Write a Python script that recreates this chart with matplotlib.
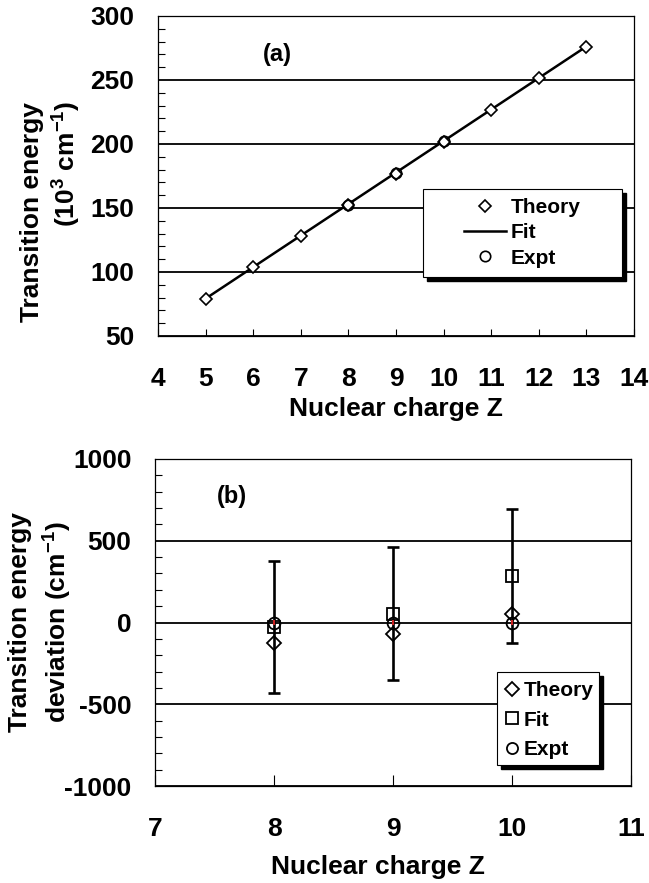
import numpy as np
import matplotlib.pyplot as plt
import matplotlib.transforms as mtransforms
from matplotlib.patches import Rectangle
from matplotlib.ticker import MultipleLocator

plt.rcParams['font.family'] = ['Liberation Sans', 'DejaVu Sans']
plt.rcParams['font.weight'] = 'bold'
plt.rcParams['axes.unicode_minus'] = False
plt.rcParams['mathtext.fontset'] = 'custom'
plt.rcParams['mathtext.rm'] = 'Liberation Sans:bold'
plt.rcParams['mathtext.bf'] = 'Liberation Sans:bold'
plt.rcParams['mathtext.default'] = 'rm'

# panel (a): transition energy (10^3 cm^-1)
z_theory = [5, 6, 7, 8, 9, 10, 11, 12, 13]
e_theory = [78.9, 103.9, 128.1, 152.3, 176.8, 201.3, 226.3, 251.3, 276.0]
z_expt = [8, 9, 10]
e_expt = [152.6, 177.5, 202.0]
z_fit = [5, 13]
e_fit = [79.2, 276.2]

# panel (b): deviations (cm^-1)
z_dev = [8, 9, 10]
dev_theory = [-128, -73, 53]
dev_fit = [-26, 55, 285]
fit_err = [405, 408, 408]
dev_expt = [0, 0, 0]
expt_err = [15, 15, 15]

W, H = 649, 883
fig = plt.figure(figsize=(W / 100, H / 100), dpi=100)


def px_axes(l, r, t, b):
    return fig.add_axes([l / W, 1 - b / H, (r - l) / W, (b - t) / H])


ax1 = px_axes(158, 634, 16, 336)
ax2 = px_axes(155, 631, 459, 786)


def style(ax, xlen):
    ax.tick_params(axis='both', which='both', direction='in', labelsize=19)
    ax.tick_params(axis='y', which='major', length=0, pad=17)
    ax.tick_params(axis='y', which='minor', length=5, width=0.8)
    ax.tick_params(axis='x', which='major', length=xlen, width=0.8, pad=22)
    ax.yaxis.grid(True, which='major', color='black', lw=1.3)
    ax.set_axisbelow(True)
    for s in ax.spines.values():
        s.set_linewidth(0.9)
    for lab in ax.get_xticklabels() + ax.get_yticklabels():
        lab.set_fontweight('bold')


def boxed_legend(ax, handles, labels, box, anchor, loc, **kw):
    x0, y0, x1, y1 = box
    shadow_tr = mtransforms.offset_copy(ax.transAxes, fig=fig, x=4, y=-4, units='dots')
    ax.add_patch(Rectangle((x0, y0), x1 - x0, y1 - y0, transform=shadow_tr,
                           facecolor='black', edgecolor='black', zorder=8, clip_on=False))
    ax.add_patch(Rectangle((x0, y0), x1 - x0, y1 - y0, transform=ax.transAxes,
                           facecolor='white', edgecolor='black', lw=0.8, zorder=9,
                           clip_on=False))
    leg = ax.legend(handles, labels, loc=loc, bbox_to_anchor=anchor, frameon=False,
                    borderpad=0, borderaxespad=0, prop={'weight': 'bold', 'size': 15}, **kw)
    leg.set_zorder(10)
    return leg


# ---- top panel
ax1.plot(z_fit, e_fit, '-', color='black', lw=1.8, zorder=3)
ax1.plot(z_theory, e_theory, 'D', mfc='white', mec='black', ms=5.8, mew=1.2,
         linestyle='none', zorder=4)
ax1.plot(z_expt, e_expt, 'o', mfc='none', mec='black', ms=7.5, mew=1.2,
         linestyle='none', zorder=5)
ax1.set_xlim(4, 14)
ax1.set_ylim(50, 300)
ax1.xaxis.set_major_locator(MultipleLocator(1))
ax1.yaxis.set_major_locator(MultipleLocator(50))
ax1.yaxis.set_minor_locator(MultipleLocator(10))
style(ax1, 5)
ax1.text(6.5, 270, '(a)', fontsize=17, fontweight='bold', ha='center', va='center')

h_th = plt.Line2D([], [], marker='D', ls='none', mfc='white', mec='black', ms=6.5, mew=1.2)
h_fit = plt.Line2D([], [], ls='-', color='black', lw=1.8)
h_ex = plt.Line2D([], [], marker='o', ls='none', mfc='none', mec='black', ms=7.5, mew=1.2)
boxed_legend(ax1, [h_th, h_fit, h_ex], ['Theory', 'Fit', 'Expt'],
             (0.557, 0.184, 0.975, 0.459), (0.766, 0.322), 'center',
             handlelength=2.0, handletextpad=0.25, labelspacing=0.3)

# ---- bottom panel
ax2.errorbar(z_dev, dev_fit, yerr=fit_err, fmt='none', ecolor='black',
             elinewidth=1.9, capsize=4.5, capthick=1.9, zorder=3)
ax2.errorbar(z_dev, dev_expt, yerr=expt_err, fmt='none', ecolor='#cc2222',
             elinewidth=1.5, capsize=0, zorder=6)
ax2.plot(z_dev, dev_theory, 'D', mfc='none', mec='black', ms=7.6, mew=1.3,
         linestyle='none', zorder=4)
ax2.plot(z_dev, dev_fit, 's', mfc='none', mec='black', ms=8.6, mew=1.3,
         linestyle='none', zorder=4)
ax2.plot(z_dev, dev_expt, 'o', mfc='none', mec='black', ms=8.5, mew=1.3,
         linestyle='none', zorder=5)
ax2.set_xlim(7, 11)
ax2.set_ylim(-1000, 1000)
ax2.xaxis.set_major_locator(MultipleLocator(1))
ax2.yaxis.set_major_locator(MultipleLocator(500))
ax2.yaxis.set_minor_locator(MultipleLocator(100))
style(ax2, 8)
ax2.text(7.65, 768, '(b)', fontsize=17, fontweight='bold', ha='center', va='center')

g_th = plt.Line2D([], [], marker='D', ls='none', mfc='none', mec='black', ms=7.6, mew=1.3)
g_fit = plt.Line2D([], [], marker='s', ls='none', mfc='none', mec='black', ms=8.6, mew=1.3)
g_ex = plt.Line2D([], [], marker='o', ls='none', mfc='none', mec='black', ms=8.0, mew=1.3)
boxed_legend(ax2, [g_th, g_fit, g_ex], ['Theory', 'Fit', 'Expt'],
             (0.718, 0.064, 0.933, 0.349), ((503 - 155) / 476, (786 - 720) / 327),
             'center left', handlelength=0.9, handletextpad=0.1, labelspacing=0.5)

# axis titles placed in figure pixels
def ftext(x, y, s, **kw):
    fig.text(x / W, 1 - y / H, s, fontsize=19, fontweight='bold', **kw)


ftext(396, 416, 'Nuclear charge Z', ha='center', va='baseline')
ftext(378, 874, 'Nuclear charge Z', ha='center', va='baseline')
ftext(32, 212, 'Transition energy', rotation=90, ha='center', va='center')
ftext(67, 164, '(10$^{3}$ cm$^{-1}$)', rotation=90, ha='center', va='center')
ftext(20, 622, 'Transition energy', rotation=90, ha='center', va='center')
ftext(58, 622, 'deviation (cm$^{-1}$)', rotation=90, ha='center', va='center')

fig.savefig('out.png', dpi=100)
